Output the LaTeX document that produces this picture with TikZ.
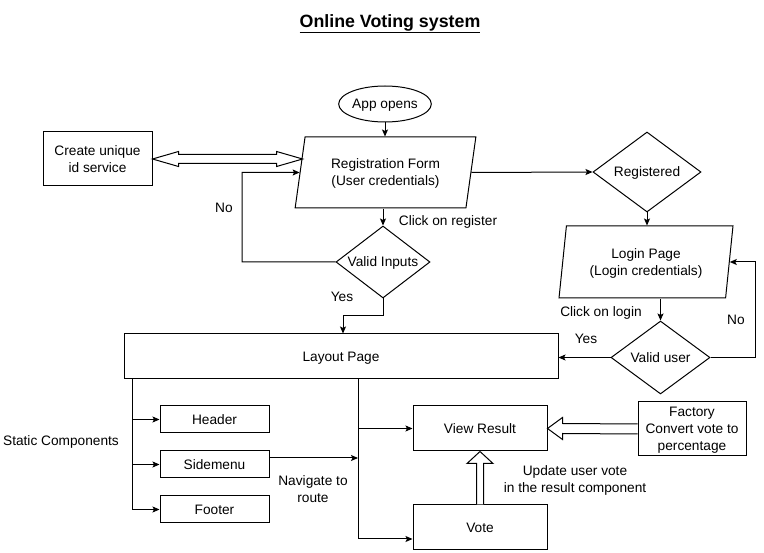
\documentclass[tikz,border=0pt]{standalone}
\usepackage{fontspec}
\setmainfont{Liberation Sans}
\usetikzlibrary{shapes.geometric,arrows.meta,calc}
\begin{document}
\begin{tikzpicture}[x=1pt,y=-1pt, line width=1pt,
 every node/.style={font=\fontsize{13.7}{17}\selectfont, text depth=0pt},
 box/.style={draw, rectangle, inner sep=0pt, align=center},
 para/.style={draw, trapezium, trapezium stretches=true, inner sep=0pt, align=center},
 dia/.style={draw, diamond, inner sep=0pt},
 arr/.style={-{Stealth[length=7pt,width=6pt,inset=1.5pt]}},
 lbl/.style={inner sep=0pt, align=center},
 hollow/.style={draw, fill=white, line join=miter}]
\useasboundingbox (0,0) rectangle (764,553);

\node[font=\bfseries\fontsize{17.8}{20}\selectfont] (title) at (390,21) {\underline{Online Voting system}};

\node[draw, ellipse, minimum width=90pt, minimum height=36pt, inner sep=0pt] (app) at (385,104) {App opens};
\node[para, trapezium left angle=76, trapezium right angle=104, minimum width=181pt, minimum height=71pt] (reg) at (385.5,172.5) {Registration Form\\(User credentials)};
\node[box, minimum width=109pt, minimum height=54pt] (idsvc) at (97.5,159) {Create unique\\id service};
\node[dia, minimum width=94pt, minimum height=72pt] (vin) at (383,262) {\makebox[0pt]{Valid Inputs}};
\node[dia, minimum width=108pt, minimum height=80pt] (regd) at (647,172) {\makebox[0pt]{Registered}};
\node[para, trapezium left angle=79, trapezium right angle=101, minimum width=174pt, minimum height=72pt] (login) at (646,262) {Login Page\\(Login credentials)};
\node[dia, minimum width=99pt, minimum height=73pt] (vuser) at (660.5,357.5) {\makebox[0pt]{Valid user}};
\node[box, minimum width=434pt, minimum height=45pt] (layout) at (341,356.5) {Layout Page};
\node[box, minimum width=109pt, minimum height=27pt] (head) at (214.5,419.5) {Header};
\node[box, minimum width=109pt, minimum height=27pt] (side) at (214.5,464.5) {Sidemenu};
\node[box, minimum width=109pt, minimum height=27pt] (foot) at (214.5,509.5) {Footer};
\node[box, minimum width=134pt, minimum height=45pt] (view) at (480,428.5) {View Result};
\node[box, minimum width=134pt, minimum height=45pt] (vote) at (480,527.5) {Vote};
\node[box, minimum width=108pt, minimum height=54pt] (fact) at (692,429) {Factory\\Convert vote to\\percentage};

% labels
\node[lbl] (lcr) at (448,221) {Click on register};
\node[lbl] (lno1) at (224,208) {No};
\node[lbl] (lyes1) at (342,297) {Yes};
\node[lbl] (lcl) at (601,312) {Click on login};
\node[lbl] (lno2) at (736,320) {No};
\node[lbl] (lyes2) at (586,339) {Yes};
\node[lbl] (lstat) at (61,441) {Static Components};
\node[lbl] (lnav) at (313,489) {Navigate to\\route};
\node[lbl] (lupd) at (575,479) {Update user vote\\in the result component};

% connectors
\draw[arr] (app) -- (app.south |- reg.north);
\draw[arr] (vin.north |- reg.south) -- (vin.north);
\coordinate (nocorner) at (242,172.5);
\draw[arr] (vin.west) -| (nocorner) -- (reg.west);
\coordinate (yescorner) at (343,316);
\draw[arr] (vin.south) |- (yescorner) -- (yescorner |- layout.north);
\draw[arr] (reg.east) -- (regd.west);
\draw[arr] (regd.south) -- (regd.south |- login.north);
\draw[arr] (vuser.north |- login.south) -- (vuser.north);
\coordinate (nor) at (755,357.5);
\draw[arr] (vuser.east) -- (nor) |- (login.east);
\draw[arr] (vuser.west) -- (vuser.west -| layout.east);

\coordinate (st) at ($(layout.south west)+(9,0)$);
\draw[arr] (st) |- (foot.west);
\draw[arr] (st |- head.west) -- (head.west);
\draw[arr] (st |- side.west) -- (side.west);

\coordinate (nv) at (358,379);
\draw[arr] (nv) |- ($(vote.west)+(0,11.5)$);
\draw[arr] (nv |- view.west) -- (view.west);
\coordinate (sm) at ($(side.east)+(0,-6.5)$);
\draw[arr] (sm) -- (sm -| nv);

% hollow arrows
\draw[hollow] ($(fact.west)+(0,-5)$) -- ($(view.east)+(15,-5)$) -- ($(view.east)+(15,-11)$) -- (view.east) -- ($(view.east)+(15,11)$) -- ($(view.east)+(15,5)$) -- ($(fact.west)+(0,5)$);
\draw[hollow] ($(vote.north)+(-3.5,0)$) -- ($(view.south)+(-3.5,12)$) -- ($(view.south)+(-13,12)$) -- (view.south) -- ($(view.south)+(13,12)$) -- ($(view.south)+(3.5,12)$) -- ($(vote.north)+(3.5,0)$);
\coordinate (dr) at ($(idsvc.east -| reg.west)+(3,0)$);
\draw[hollow] (idsvc.east) -- ++(26,-7.5) -- ++(0,3) -- ($(dr)+(-26,-4.5)$) -- ($(dr)+(-26,-7.5)$) -- (dr) -- ($(dr)+(-26,7.5)$) -- ($(dr)+(-26,4.5)$) -- ($(idsvc.east)+(26,4.5)$) -- ($(idsvc.east)+(26,7.5)$) -- cycle;
\end{tikzpicture}
\end{document}
